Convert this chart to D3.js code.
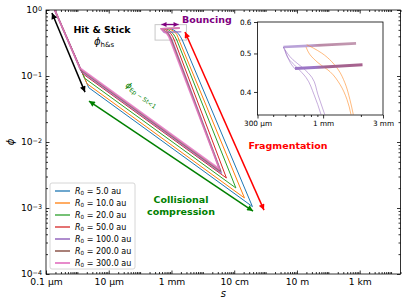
<!DOCTYPE html>
<html>
<head>
<meta charset="utf-8">
<script src="https://cdn.jsdelivr.net/npm/d3@7"></script>
<style>
    body { margin: 0; background: #fff; }
    svg { font-family: "DejaVu Sans", sans-serif; }
</style>
</head>
<body>
<svg id="chart" width="407" height="306"></svg>
<script>
// R0 of each run and its tab10 colour
const radii = [5.0, 10.0, 20.0, 50.0, 100.0, 200.0, 300.0];
const colors = ["#1f77b4", "#ff7f0e", "#2ca02c", "#d62728", "#9467bd", "#8c564b", "#e377c2"];

// (s [cm], phi) tracks: hit & stick start, knee, V tip, then the rise to bouncing
const track5 = [[1.9e-5, 1], [2.31e-4, 0.0665], [38.1, 1.05e-3], [0.221, 0.35], [0.19, 0.40], [0.165, 0.44], [0.14, 0.47], [0.115, 0.50], [0.095, 0.52]];
const track10 = [[1.9e-5, 1], [2.04e-4, 0.0762], [21.2, 1.42e-3], [0.174, 0.351], [0.163, 0.383], [0.149, 0.422], [0.132, 0.455], [0.117, 0.477], [0.0975, 0.501], [0.0834, 0.516], [0.074, 0.526]];
const track20 = [[1.9e-5, 1], [1.70e-4, 0.0926], [11.3, 2.01e-3], [0.148, 0.35], [0.128, 0.40], [0.112, 0.44], [0.095, 0.47], [0.08, 0.50], [0.066, 0.52]];
const track50 = [[1.9e-5, 1], [1.46e-4, 0.109], [5.64, 2.85e-3], [0.123, 0.35], [0.108, 0.40], [0.095, 0.44], [0.08, 0.47], [0.067, 0.50], [0.056, 0.52]];
const track100 = [[1.9e-5, 1], [1.36e-4, 0.117], [3.90, 3.39e-3], [0.103, 0.351], [0.0909, 0.394], [0.0815, 0.435], [0.069, 0.46], [0.0575, 0.482], [0.0482, 0.519], [0.0513, 0.496], [0.0562, 0.468], [0.0597, 0.457], [0.206, 0.468]];
const track200 = [[1.9e-5, 1], [1.27e-4, 0.125], [3.62, 3.64e-3], [0.0986, 0.35], [0.087, 0.40], [0.076, 0.44], [0.064, 0.47], [0.054, 0.50], [0.047, 0.52], [0.09, 0.525], [0.183, 0.53]];
const track300 = [[1.9e-5, 1], [1.20e-4, 0.132], [3.37, 3.90e-3], [0.0917, 0.35], [0.081, 0.40], [0.071, 0.44], [0.06, 0.47], [0.05, 0.50], [0.0475, 0.519], [0.09, 0.524], [0.183, 0.531]];
const tracks = [track5, track10, track20, track50, track100, track200, track300];

// inset (zoom on the bouncing region)
const insetPurpleA = [[0.103, 0.351], [0.0909, 0.394], [0.0815, 0.435], [0.069, 0.460], [0.0575, 0.482], [0.0482, 0.519]];
const insetPurpleB = [[0.0962, 0.351], [0.0846, 0.394], [0.0731, 0.435], [0.0619, 0.461], [0.0525, 0.487], [0.0497, 0.510]];
const insetPurpleLoop = [[0.0482, 0.519], [0.0513, 0.496], [0.0562, 0.468], [0.0597, 0.457]];
const insetOrangeA = [[0.1739, 0.351], [0.1634, 0.383], [0.149, 0.422], [0.1321, 0.455], [0.117, 0.477], [0.0975, 0.501], [0.0834, 0.516], [0.074, 0.526]];
const insetOrangeB = [[0.1667, 0.351], [0.1549, 0.383], [0.1362, 0.418], [0.1134, 0.450], [0.091, 0.474], [0.0788, 0.496], [0.0731, 0.519]];
const insetBandTop = [[0.0482, 0.519], [0.09, 0.524], [0.183, 0.530]];
const insetBandLow = [[0.0597, 0.458], [0.11, 0.463], [0.206, 0.468]];

// ticks
const xMajor = [1e-5, 1e-3, 1e-1, 1e1, 1e3, 1e5];
const xLabels = ["0.1 µm", "10 µm", "1 mm", "10 cm", "10 m", "1 km"];
const yMajor = [1e-4, 1e-3, 1e-2, 1e-1, 1];
const yExps = ["−4", "−3", "−2", "−1", "0"];
const insetXMajor = [0.03, 0.1, 0.3];
const insetXLabels = ["300 µm", "1 mm", "3 mm"];
const insetYMajor = [0.4, 0.5, 0.6];

const svg = d3.select("#chart");
const m = { left: 46, right: 400.5, top: 10, bottom: 274 };

const x = d3.scaleLog().domain([1e-5, 2e6]).range([m.left, m.right]);
const y = d3.scaleLog().domain([1e-4, 1]).range([m.bottom, m.top]);
const ix = d3.scaleLog().domain([0.03, 0.3]).range([257.5, 383]);
const iy = d3.scaleLog().domain([0.35, 0.6]).range([115, 22]);

const line = d3.line().x(d => x(d[0])).y(d => y(d[1]));
const iline = d3.line().x(d => ix(d[0])).y(d => iy(d[1])).curve(d3.curveMonotoneY);

const widths = [1, 1, 1, 1, 1.7, 1.7, 1.7];
const alphas = [1, 1, 1, 1, 0.75, 0.75, 0.85];

const defs = svg.append("defs");
defs.append("clipPath").attr("id", "clip")
    .append("rect")
    .attr("x", m.left).attr("y", m.top)
    .attr("width", m.right - m.left).attr("height", m.bottom - m.top);

// arrow heads, one per colour
["black", "green", "red", "purple"].forEach(c => {
    defs.append("marker")
        .attr("id", "head-" + c)
        .attr("viewBox", "0 0 10 10")
        .attr("refX", 10).attr("refY", 5)
        .attr("markerUnits", "userSpaceOnUse")
        .attr("markerWidth", c === "purple" ? 5.5 : 7)
        .attr("markerHeight", c === "purple" ? 5 : 6)
        .attr("orient", "auto-start-reverse")
        .append("path")
        .attr("d", "M0,0 L10,5 L0,10 z")
        .attr("fill", c);
});

// minor tick positions
const xMinor = [];
d3.range(-5, 7).forEach(e => d3.range(1, 10).forEach(k => {
    const v = k * Math.pow(10, e);
    if (v >= 1e-5 && v <= 2e6 && !xMajor.includes(v)) xMinor.push(v);
}));
const yMinor = [];
d3.range(-4, 0).forEach(e => d3.range(2, 10).forEach(k => yMinor.push(k * Math.pow(10, e))));

// ---- main axes ----
const noLabel = () => "";

function styleAxis(g) {
    g.select(".domain").remove();
    g.selectAll(".tick line").attr("stroke", "#000").attr("stroke-width", 0.8);
    g.attr("font-family", "DejaVu Sans").attr("font-size", 9.2);
    g.selectAll(".tick text").attr("fill", "#000");
}

svg.append("g").attr("transform", `translate(0,${m.bottom})`)
    .call(d3.axisBottom(x).tickValues(xMajor).tickSizeInner(-3.5).tickSizeOuter(0)
        .tickPadding(4).tickFormat((d, i) => xLabels[i]))
    .call(styleAxis);
svg.append("g").attr("transform", `translate(0,${m.bottom})`)
    .call(d3.axisBottom(x).tickValues(xMinor).tickSizeInner(-2).tickSizeOuter(0).tickFormat(noLabel))
    .call(styleAxis);
svg.append("g").attr("transform", `translate(0,${m.top})`)
    .call(d3.axisTop(x).tickValues(xMajor).tickSizeInner(-3.5).tickSizeOuter(0).tickFormat(noLabel))
    .call(styleAxis);
svg.append("g").attr("transform", `translate(0,${m.top})`)
    .call(d3.axisTop(x).tickValues(xMinor).tickSizeInner(-2).tickSizeOuter(0).tickFormat(noLabel))
    .call(styleAxis);

const yAxis = svg.append("g").attr("transform", `translate(${m.left},0)`)
    .call(d3.axisLeft(y).tickValues(yMajor).tickSizeInner(-3.5).tickSizeOuter(0)
        .tickPadding(4).tickFormat(noLabel))
    .call(styleAxis);
yAxis.selectAll(".tick text").each(function (d, i) {
    const t = d3.select(this);
    t.append("tspan").text("10");
    t.append("tspan").attr("dy", "-0.45em").attr("font-size", 6.4).text(yExps[i]);
});
svg.append("g").attr("transform", `translate(${m.left},0)`)
    .call(d3.axisLeft(y).tickValues(yMinor).tickSizeInner(-2).tickSizeOuter(0).tickFormat(noLabel))
    .call(styleAxis);
svg.append("g").attr("transform", `translate(${m.right},0)`)
    .call(d3.axisRight(y).tickValues(yMajor).tickSizeInner(-3.5).tickSizeOuter(0).tickFormat(noLabel))
    .call(styleAxis);
svg.append("g").attr("transform", `translate(${m.right},0)`)
    .call(d3.axisRight(y).tickValues(yMinor).tickSizeInner(-2).tickSizeOuter(0).tickFormat(noLabel))
    .call(styleAxis);

// ---- curves ----
const plot = svg.append("g").attr("clip-path", "url(#clip)");

// zoom box of the inset
plot.append("rect")
    .attr("x", x(0.03)).attr("y", y(0.6))
    .attr("width", x(0.3) - x(0.03)).attr("height", y(0.35) - y(0.6))
    .attr("fill", "none").attr("stroke", "#c8c8c8").attr("stroke-width", 1);

plot.selectAll("path.track")
    .data(tracks)
    .enter().append("path")
    .attr("class", "track")
    .attr("d", line)
    .attr("fill", "none")
    .attr("stroke", (d, i) => colors[i])
    .attr("stroke-width", (d, i) => widths[i])
    .attr("stroke-opacity", (d, i) => alphas[i])
    .attr("stroke-linejoin", "round");

// ---- annotations ----
function arrow(p0, p1, color, w, twoHeads) {
    svg.append("line")
        .attr("x1", x(p0[0])).attr("y1", y(p0[1]))
        .attr("x2", x(p1[0])).attr("y2", y(p1[1]))
        .attr("stroke", color).attr("stroke-width", w)
        .attr("marker-start", twoHeads ? `url(#head-${color})` : null)
        .attr("marker-end", `url(#head-${color})`);
}
arrow([1.55e-5, 0.90], [1.75e-4, 0.057], "black", 1.5, true);
arrow([2.35e-4, 0.0418], [39.7, 9.0e-4], "green", 1.5, true);
arrow([0.27, 0.464], [89, 9.3e-4], "red", 1.5, true);
arrow([0.048, 0.603], [0.168, 0.603], "purple", 1.3, true);

function label(s, phi, txt, color, anchor) {
    return svg.append("text")
        .attr("x", x(s)).attr("y", y(phi))
        .attr("text-anchor", anchor || "middle")
        .attr("font-size", 9.5).attr("font-weight", "bold")
        .attr("fill", color).text(txt);
}
label(6.1e-4, 0.456, "Hit & Stick", "black");
label(0.216, 0.646, "Bouncing", "purple", "start");
label(518, 7.97e-3, "Fragmentation", "red");
label(0.201, 1.17e-3, "Collisional", "green");
label(0.201, 7.7e-4, "compression", "green");

const phiHs = svg.append("text")
    .attr("x", x(7.1e-4)).attr("y", y(0.29))
    .attr("text-anchor", "middle").attr("font-size", 10);
phiHs.append("tspan").attr("font-style", "italic").text("ϕ");
phiHs.append("tspan").attr("font-size", 7).attr("dy", "0.25em").text("h&s");

const phiEp = svg.append("text")
    .attr("transform", `translate(${x(1e-2)},${y(0.048)}) rotate(35.5)`)
    .attr("text-anchor", "middle").attr("font-size", 8.5).attr("fill", "green");
phiEp.append("tspan").attr("font-style", "italic").text("ϕ");
phiEp.append("tspan").attr("font-size", 6).attr("dy", "0.25em").text("Ep − St<1");

// axis titles
svg.append("text")
    .attr("transform", `translate(14,${(m.top + m.bottom) / 2}) rotate(-90)`)
    .attr("text-anchor", "middle").attr("font-size", 10).attr("font-style", "italic")
    .text("ϕ");
svg.append("text")
    .attr("x", (m.left + m.right) / 2).attr("y", 297)
    .attr("text-anchor", "middle").attr("font-size", 10).attr("font-style", "italic")
    .text("s");

// ---- legend ----
const legend = svg.append("g").attr("transform", "translate(50,183)");
legend.append("rect")
    .attr("width", 85).attr("height", 86).attr("rx", 2)
    .attr("fill", "#fff").attr("fill-opacity", 0.8)
    .attr("stroke", "#cccccc").attr("stroke-width", 0.8);
const item = legend.selectAll("g.item")
    .data(radii)
    .enter().append("g")
    .attr("class", "item")
    .attr("transform", (d, i) => `translate(0,${8 + i * 12})`);
item.append("line")
    .attr("x1", 5).attr("x2", 20)
    .attr("stroke", (d, i) => colors[i])
    .attr("stroke-width", (d, i) => widths[i] + 0.3)
    .attr("stroke-opacity", (d, i) => alphas[i]);
const itemText = item.append("text")
    .attr("x", 25).attr("y", 3).attr("font-size", 8);
itemText.append("tspan").attr("font-style", "italic").text("R");
itemText.append("tspan").attr("font-size", 5.6).attr("dy", "0.25em").text("0");
itemText.append("tspan").attr("dy", "-0.2em").text(d => " = " + d.toFixed(1) + " au");

// ---- inset ----
const inset = svg.append("g");
inset.append("rect")
    .attr("x", 257.5).attr("y", 22).attr("width", 383 - 257.5).attr("height", 115 - 22)
    .attr("fill", "#fff");

const gradTop = defs.append("linearGradient").attr("id", "bandTop")
    .attr("gradientUnits", "userSpaceOnUse")
    .attr("x1", ix(0.0482)).attr("x2", ix(0.183)).attr("y1", 0).attr("y2", 0);
gradTop.append("stop").attr("offset", 0).attr("stop-color", "#b9a2d8");
gradTop.append("stop").attr("offset", 0.35).attr("stop-color", "#b9a2d8");
gradTop.append("stop").attr("offset", 0.5).attr("stop-color", "#bb8aa6");
gradTop.append("stop").attr("offset", 1).attr("stop-color", "#c39ab2");
const gradLow = defs.append("linearGradient").attr("id", "bandLow")
    .attr("gradientUnits", "userSpaceOnUse")
    .attr("x1", ix(0.0597)).attr("x2", ix(0.206)).attr("y1", 0).attr("y2", 0);
gradLow.append("stop").attr("offset", 0).attr("stop-color", "#9c76c6");
gradLow.append("stop").attr("offset", 0.3).attr("stop-color", "#9c76c6");
gradLow.append("stop").attr("offset", 0.45).attr("stop-color", "#a2648f");
gradLow.append("stop").attr("offset", 1).attr("stop-color", "#a8628f");

const iPlain = d3.line().x(d => ix(d[0])).y(d => iy(d[1]));
inset.append("path").attr("d", iPlain(insetBandTop))
    .attr("fill", "none").attr("stroke", "url(#bandTop)").attr("stroke-width", 2.6);

[[insetPurpleA, colors[4]], [insetPurpleB, colors[4]], [insetPurpleLoop, colors[4]],
 [insetOrangeA, colors[1]], [insetOrangeB, colors[1]]].forEach(([pts, c]) => {
    inset.append("path").attr("d", iline(pts))
        .attr("fill", "none").attr("stroke", c)
        .attr("stroke-width", 0.9).attr("stroke-opacity", 0.6);
});

inset.append("path").attr("d", iPlain(insetBandLow))
    .attr("fill", "none").attr("stroke", "url(#bandLow)").attr("stroke-width", 3);

inset.append("rect")
    .attr("x", 257.5).attr("y", 22).attr("width", 383 - 257.5).attr("height", 115 - 22)
    .attr("fill", "none").attr("stroke", "#000").attr("stroke-width", 0.8);

function styleInset(g) {
    g.select(".domain").remove();
    g.selectAll(".tick line").attr("stroke", "#000").attr("stroke-width", 0.8);
    g.attr("font-family", "DejaVu Sans").attr("font-size", 7.3);
    g.selectAll(".tick text").attr("fill", "#000");
}
inset.append("g").attr("transform", "translate(0,115)")
    .call(d3.axisBottom(ix).tickValues(insetXMajor).tickSizeInner(3.5).tickSizeOuter(0)
        .tickPadding(2.5).tickFormat((d, i) => insetXLabels[i]))
    .call(styleInset);
inset.append("g").attr("transform", "translate(0,115)")
    .call(d3.axisBottom(ix).tickValues([0.04, 0.05, 0.06, 0.07, 0.08, 0.09, 0.2])
        .tickSizeInner(2).tickSizeOuter(0).tickFormat(noLabel))
    .call(styleInset);
inset.append("g").attr("transform", "translate(257.5,0)")
    .call(d3.axisLeft(iy).tickValues(insetYMajor).tickSizeInner(3.5).tickSizeOuter(0)
        .tickPadding(2.5).tickFormat(d3.format(".1f")))
    .call(styleInset);

// main frame on top
svg.append("rect")
    .attr("x", m.left).attr("y", m.top)
    .attr("width", m.right - m.left).attr("height", m.bottom - m.top)
    .attr("fill", "none").attr("stroke", "#000").attr("stroke-width", 0.8);
</script>
</body>
</html>
